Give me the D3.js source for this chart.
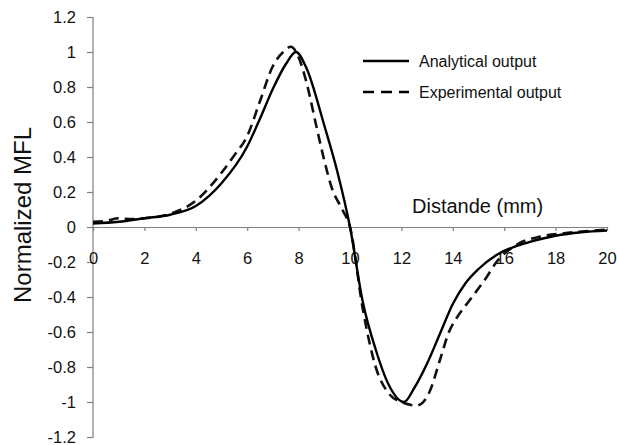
<!DOCTYPE html>
<html>
<head>
<meta charset="utf-8">
<script src="https://cdn.jsdelivr.net/npm/d3@7"></script>
<style>
body { margin: 0; background: #fff; }
svg { display: block; font-family: "Liberation Sans", Arial, sans-serif; }
</style>
</head>
<body>
<svg id="chart" width="617" height="445"></svg>
<script>
// distance along the sample (mm) and normalized MFL values
var analyticalX = [0, 1, 2, 3, 4, 5, 6, 6.5, 7, 7.5, 7.9, 8.3, 9, 9.5, 10, 10.5, 11, 11.5, 12.1, 12.5, 13, 13.5, 14, 14.5, 15, 15.7, 17, 18, 19, 20];
var analyticalY = [0.02, 0.03, 0.05, 0.07, 0.12, 0.25, 0.46, 0.62, 0.79, 0.93, 1.0, 0.91, 0.58, 0.32, 0.0, -0.43, -0.7, -0.9, -1.0, -0.92, -0.78, -0.61, -0.44, -0.32, -0.24, -0.16, -0.085, -0.05, -0.03, -0.02];

var experimentalX = [0, 0.5, 1, 1.5, 2, 3, 4, 5, 5.5, 6, 6.5, 7, 7.4, 7.7, 8, 8.3, 8.7, 9, 9.3, 9.7, 10, 10.5, 11, 11.5, 12, 12.6, 13.1, 13.5, 13.85, 14.15, 14.7, 15.3, 15.7, 16.5, 17.4, 18.4, 20];
var experimentalY = [0.03, 0.035, 0.05, 0.045, 0.05, 0.075, 0.15, 0.31, 0.41, 0.52, 0.72, 0.92, 1.0, 1.03, 0.97, 0.83, 0.57, 0.38, 0.22, 0.1, 0.0, -0.47, -0.8, -0.95, -1.0, -1.02, -0.94, -0.76, -0.6, -0.52, -0.41, -0.29, -0.2, -0.1, -0.055, -0.035, -0.015];

var xTicks = [0, 2, 4, 6, 8, 10, 12, 14, 16, 18, 20];
var yTicks = [1.2, 1, 0.8, 0.6, 0.4, 0.2, 0, -0.2, -0.4, -0.6, -0.8, -1, -1.2];
var yTickLabels = ['1.2', '1', '0.8', '0.6', '0.4', '0.2', '0', '-0.2', '-0.4', '-0.6', '-0.8', '-1', '-1.2'];

var seriesNames = ['Analytical output', 'Experimental output'];

var marginLeft = 93, marginTop = 17, w = 514, h = 420;

var svg = d3.select('#chart');
var g = svg.append('g').attr('transform', 'translate(' + marginLeft + ',' + marginTop + ')');

var x = d3.scaleLinear().domain([0, 20]).range([0, w]);
var y = d3.scaleLinear().domain([-1.2, 1.2]).range([h, 0]);

// y axis
var yAxis = g.append('g')
	.call(d3.axisLeft(y).tickValues(yTicks).tickSize(6).tickPadding(11)
		.tickFormat((d, i) => yTickLabels[i]));
yAxis.selectAll('path, line').attr('stroke', '#808080').attr('stroke-width', 1.2);
yAxis.select('.domain').attr('d', 'M-6,0.5H0V' + (h + 0.5) + 'H-6');
yAxis.selectAll('text').attr('font-size', 16.5).attr('fill', '#111').attr('font-family', '"Liberation Sans", Arial, sans-serif');

// x axis crossing at y = 0
var xAxis = g.append('g')
	.attr('transform', 'translate(0,' + y(0) + ')')
	.call(d3.axisBottom(x).tickValues(xTicks).tickSize(4).tickPadding(21).tickSizeOuter(0));
xAxis.selectAll('path, line').attr('stroke', '#808080').attr('stroke-width', 1.2);
xAxis.selectAll('text').attr('font-size', 16.5).attr('fill', '#111').attr('font-family', '"Liberation Sans", Arial, sans-serif');

// curves
var line = d3.line()
	.x(d => x(d[0]))
	.y(d => y(d[1]))
	.curve(d3.curveMonotoneX);

g.append('path')
	.datum(d3.zip(experimentalX, experimentalY))
	.attr('d', line)
	.attr('fill', 'none')
	.attr('stroke', '#111')
	.attr('stroke-width', 2.6)
	.attr('stroke-dasharray', '10,6');

g.append('path')
	.datum(d3.zip(analyticalX, analyticalY))
	.attr('d', line)
	.attr('fill', 'none')
	.attr('stroke', '#000')
	.attr('stroke-width', 2.4);

// axis titles
svg.append('text')
	.attr('x', 412).attr('y', 213)
	.attr('font-size', 20).attr('fill', '#111')
	.text('Distande (mm)');

svg.append('text')
	.attr('transform', 'translate(31,215) rotate(-90)')
	.attr('text-anchor', 'middle')
	.attr('font-size', 24).attr('fill', '#111')
	.text('Normalized MFL');

// legend
var legend = svg.append('g');
seriesNames.forEach(function(name, i) {
	var ly = 61 + i * 31;
	legend.append('line')
		.attr('x1', 363).attr('x2', 409)
		.attr('y1', ly).attr('y2', ly)
		.attr('stroke', '#000')
		.attr('stroke-width', 2.6)
		.attr('stroke-dasharray', i == 1 ? '11,7' : null);
	legend.append('text')
		.attr('x', 419).attr('y', ly + 6)
		.attr('font-size', 16).attr('fill', '#111')
		.text(name);
});
</script>
</body>
</html>
